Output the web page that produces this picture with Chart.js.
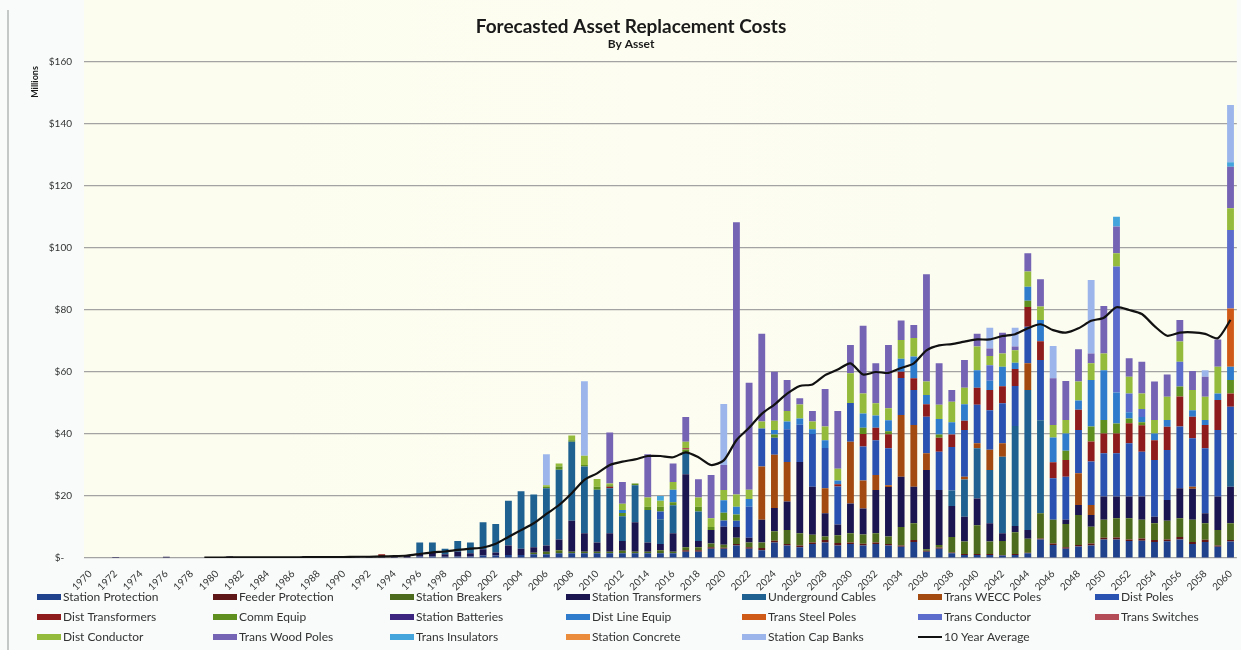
<!DOCTYPE html>
<html>
<head>
<meta charset="utf-8">
<title>Forecasted Asset Replacement Costs</title>
<script src="https://cdn.jsdelivr.net/npm/chart.js@4.4.1/dist/chart.umd.min.js"></script>
<style>
  html, body { margin: 0; padding: 0; background: #f8fbfa; }
  #wrap { width: 1241px; height: 650px; position: relative; }
  canvas { display: block; }
</style>
</head>
<body>
<div id="wrap"><canvas id="chart" width="1241" height="650"></canvas></div>
<script>
// Category axis: one bar per year, 1970 - 2060
const years = [];
for (let y = 1970; y <= 2060; y++) years.push(String(y));

// Replacement cost by asset class, $ millions (rows are decades: 1970s ... 2050s, then 2060)
const stationProtection = [
  0,0,0,0,0,0,0,0,0,0,
  0,0,0,0,0,0,0,0,0,0,
  0,0,0,0,0,0,.5,.5,.4,.5,
  .5,.8,.8,1,1,1.2,1.2,1.5,1.5,1.5,
  1.5,1.5,1.5,1.5,1.5,1.5,1.5,2,2,3,
  3,4,3,2.5,5,4,3.5,4.5,5,4,
  4.5,4,4.5,4,3.6,5.2,2,3,1.5,1,
  1,1,.8,1,1.5,6,4.2,3,3.7,4,
  6,6,5.5,5.6,5.2,5.4,6,4.5,5.2,3.6,
  5.3];
const feederProtection = [
  0,0,0,0,0,0,0,0,0,0,
  0,0,0,0,0,0,0,0,0,0,
  0,0,0,0,0,0,0,0,0,0,
  0,0,0,0,0,0,0,0,0,0,
  0,0,0,0,0,0,0,.5,.5,.5,
  .3,.5,.5,.7,.6,.5,.5,.5,.8,.8,
  .5,.6,.5,.5,.4,.6,.3,.4,.3,.3,
  .3,.3,.2,.3,.2,.3,.5,.5,.5,.7,
  .5,.6,.5,.7,.6,.6,.8,.7,.7,.4,
  .5];
const stationBreakers = [
  0,0,0,0,0,0,0,0,0,0,
  0,0,0,0,0,0,0,0,0,0,
  0,0,0,0,0,0,0,0,0,0,
  0,0,0,0,0,.5,.8,1,.5,.5,
  .5,.5,.8,.5,.5,1,.5,1,1,1.2,
  1,2,1.5,1.8,3,4.5,4,2.5,1.1,2.5,
  3,3,3,2.4,6,5.4,.5,.8,5,4,
  9.3,4,4.5,7,4.5,8.1,7.6,7.5,9.7,5.4,
  5.8,6.2,6.8,6,5.4,6,6,7.1,5.3,5,
  5.4];
const stationTransformers = [
  0,0,.3,0,0,0,.4,0,0,.2,
  .3,.5,.2,.2,.2,.2,.3,.6,.6,.3,
  .3,.6,.4,.4,.5,.8,1,1.2,.8,1.5,
  1,2,1,3,2,1.8,2,3.5,10,6,
  3,6,3.2,9.5,3,2,6,23.5,2,4.3,
  5.8,3.5,1.5,7.3,7.5,9.2,23,15.5,7.5,3.5,
  9.6,8.4,13.9,16,16.2,11.8,25.6,17.7,10,8,
  8.6,5.9,2.5,2,2.8,0,0,1.3,3.2,3.8,
  7.5,7,7,7.5,2.1,6.7,9.7,10,3.2,10.8,
  11.8];
const undergroundCables = [
  0,0,0,0,0,0,0,0,0,0,
  0,0,0,0,0,0,0,0,0,0,
  0,0,0,0,0,0,3.5,3.3,1.8,3.5,
  3.5,8.7,9.2,14.5,18.5,17,18.5,22.5,25.5,21.5,
  17,14.5,8,12,10.5,8,9,7,9.5,0,
  0,0,0,0,0,0,0,0,0,0,
  0,0,0,0,0,0,0,0,5,12,
  16.2,17.2,24.7,32.3,45.2,30,0,0,0,0,
  0,0,0,0,0,0,0,0,0,0,
  8.6];
const transWeccPoles = [
  0,0,0,0,0,0,0,0,0,0,
  0,0,0,0,0,0,0,0,0,0,
  0,0,0,0,0,0,0,0,0,0,
  0,0,0,0,0,0,0,0,0,0,
  0,0,0,0,0,0,0,0,0,0,
  0,0,0,17.2,17.2,12.8,0,0,8.1,0,
  19.9,9,4.9,.6,19.9,19.9,5.4,0,0,.9,
  1.6,6.5,4.3,0,8.6,0,0,0,10.2,3.2,
  0,0,0,0,0,0,0,.7,0,0,
  0];
const distPoles = [
  0,0,0,0,0,0,0,0,0,0,
  0,0,0,0,0,0,0,0,0,0,
  0,0,0,0,0,0,0,0,0,0,
  0,0,0,0,0,0,0,0,0,0,
  0,0,0,0,0,2.5,0,0,0,0,
  2,2,10,12.3,5.5,10.5,12,17,13,12.3,
  12.5,11,11.2,11.9,12,11.3,11.8,12.4,14,15.1,
  12.4,12.8,12.9,12.9,11.8,19.5,13.4,13.9,14,14,
  14,14,17.2,14.5,18.3,16.1,19.9,15.6,21,21.5,
  17.2];
const distTransformers = [
  0,0,0,0,0,0,0,0,0,0,
  0,0,0,0,0,0,0,0,0,0,
  0,0,0,.8,0,0,0,0,0,0,
  0,0,0,0,0,0,0,0,0,0,
  0,.5,0,0,0,0,0,0,0,0,
  0,0,0,0,0,0,0,0,0,.7,
  0,4,4,4.5,2,3.8,4,4.5,4,3,
  5.5,6.5,5.5,5.5,6.4,6,5.2,5.4,6.5,6.5,
  6.4,6.4,6.5,8.5,6.4,7.5,9.7,7,7.5,9.7,
  4.3];
const commEquip = [
  0,0,0,0,0,0,0,0,0,0,
  0,0,0,0,0,0,0,0,0,0,
  0,0,0,0,0,0,0,0,0,0,
  0,0,0,0,0,0,.5,1,.5,.5,
  1,.5,1,.5,1,1.5,1,1,1.5,1,
  2.5,2,0,0,1,0,0,0,0,0,
  0,2,0,1,0,0,0,1,0,0,
  0,0,0,0,2,0,0,3,0,4.8,
  4.3,3.2,1.5,1,0,0,3.2,0,0,0,
  4.3];
const stationBatteries = [
  0,0,0,0,0,0,0,0,0,0,
  0,0,0,0,0,0,0,0,0,0,
  0,0,0,0,0,0,0,0,0,0,
  0,0,0,0,0,0,0,0,0,0,
  0,0,0,0,0,0,0,0,0,0,
  0,0,0,0,0,0,0,0,0,0,
  0,0,0,0,0,0,0,0,0,0,
  0,0,0,0,0,0,0,0,0,0,
  0,0,0,0,0,0,0,0,0,0,
  0];
const distLineEquip = [
  0,0,0,0,0,0,0,0,0,0,
  0,0,0,0,0,0,0,0,0,0,
  0,0,0,0,0,0,0,0,0,0,
  0,0,0,0,0,0,0,0,0,0,
  0,0,1,0,0,0,4,0,0,0,
  4,2.5,2.5,0,1.5,2.5,2,1.5,2.5,1.2,
  0,4.6,4,3.5,4.2,7,3,5,4,5.3,
  5.7,3,6.3,2,4.5,6.9,8,5.6,3,15,
  16.1,10,2,1.7,2.2,2.2,0,2.1,1.6,2.1,
  4.3];
const transSteelPoles = [
  0,0,0,0,0,0,0,0,0,0,
  0,0,0,0,0,0,0,0,0,0,
  0,0,0,0,0,0,0,0,0,0,
  0,0,0,0,0,0,0,0,0,0,
  0,0,0,0,0,0,0,0,0,0,
  0,0,0,0,0,0,0,0,0,0,
  0,0,0,0,0,0,0,0,0,0,
  0,0,0,0,0,0,0,0,0,0,
  0,0,0,0,0,0,0,0,0,0,
  18.8];
const transConductor = [
  0,0,0,0,0,0,0,0,0,0,
  0,0,0,0,0,0,0,0,0,0,
  0,0,0,0,0,0,0,0,0,0,
  0,0,0,0,0,0,0,0,0,0,
  0,0,0,0,0,0,0,0,0,0,
  0,0,0,0,0,0,0,0,0,0,
  0,0,0,0,0,0,0,0,0,0,
  0,5,0,0,0,0,0,0,0,0,
  0,40.6,6.1,2.6,0,0,8,0,0,0,
  25.3];
const transSwitches = [
  0,0,0,0,0,0,0,0,0,0,
  0,0,0,0,0,0,0,0,0,0,
  0,0,0,0,0,0,0,0,0,0,
  0,0,0,0,0,0,0,0,0,0,
  0,0,0,0,0,0,0,.5,0,0,
  0,0,0,0,0,0,0,0,0,0,
  0,0,0,0,0,0,0,0,0,0,
  0,0,0,0,0,0,0,0,0,0,
  0,0,0,0,0,0,0,0,0,0,
  0];
const distConductor = [
  0,0,0,0,0,0,0,0,0,0,
  0,0,0,0,0,0,0,0,0,0,
  0,0,0,0,0,0,0,0,0,0,
  0,0,0,0,0,0,.5,1,1.5,3,
  2.5,.5,2,0,3,2,2.5,2,3,2.8,
  3.3,4,3,2.2,3,3.4,4.5,2.5,4.4,3.8,
  9.6,6.5,3.9,3.9,6,6,4.3,4.6,6.6,5.3,
  7.6,3,4.3,4,4.9,4.3,4,4.3,6.1,5.4,
  5.4,4.3,5.4,5,4.3,7.5,6.5,6.5,7.5,8.6,
  7];
const transWoodPoles = [
  0,0,0,0,0,0,0,0,0,0,
  0,0,0,0,0,0,0,0,0,0,
  0,0,0,0,0,0,0,0,0,0,
  0,0,0,0,0,0,0,0,0,0,
  0,16.5,7,0,14,0,6,8,5.9,14,
  8.1,87.8,34.5,28.3,15.8,10,2,3.4,12.1,18.6,
  9.1,21.8,12.9,20.4,6.3,4.2,34.6,13.4,3.8,9,
  4.1,2.4,6.7,1.2,5.9,8.8,15.1,12.6,10.4,3.2,
  15.3,8.6,5.9,10.2,12.4,7.2,7,6.1,6.5,8.8,
  13.4];
const transInsulators = [
  0,0,0,0,0,0,0,0,0,0,
  0,0,0,0,0,0,0,0,0,0,
  0,0,0,0,0,0,0,0,0,0,
  0,0,0,0,0,0,0,0,0,0,
  0,0,0,0,0,1.5,0,0,0,0,
  0,0,0,0,0,0,0,0,0,0,
  0,0,0,0,0,0,0,0,0,0,
  0,0,0,0,0,0,0,0,0,0,
  0,3.2,0,0,0,0,0,0,0,0,
  1.5];
const stationConcrete = [
  0,0,0,0,0,0,0,0,0,0,
  0,0,0,0,0,0,0,0,0,0,
  0,0,0,0,0,0,0,0,0,0,
  0,0,0,0,0,0,0,0,0,0,
  0,0,0,0,0,0,0,0,0,0,
  0,0,0,0,0,0,0,0,0,0,
  0,0,0,0,0,0,0,0,0,0,
  0,0,0,0,0,0,0,0,0,0,
  0,0,0,0,0,0,0,0,0,0,
  0];
const stationCapBanks = [
  0,0,0,0,0,0,0,0,0,0,
  0,0,0,0,0,0,0,0,0,0,
  0,0,0,0,0,0,0,0,0,0,
  0,0,0,0,0,0,10,0,0,24,
  0,0,0,0,0,0,0,0,0,0,
  19.7,0,0,0,0,0,0,0,0,0,
  0,0,0,0,0,0,0,0,0,0,
  0,6.7,0,6.1,0,0,10.4,0,0,23.7,
  0,0,0,0,0,0,0,0,2.1,0,
  18.4];

// 10 year average of total cost, $ millions
const tenYearAverage = [
  null,null,null,null,null,null,null,null,null,.1,
  .1,.2,.2,.2,.2,.2,.2,.3,.3,.3,
  .3,.4,.4,.5,.6,.8,1.3,1.8,2.1,2.6,
  3,3.4,4.6,6.8,9,11.2,14.2,17.1,20.9,25.2,
  27.3,30,31.1,31.8,32.9,32.9,32.5,34.1,32.5,30,
  31.5,38,42,46.5,49.5,53,55.5,56,59,60.8,
  62.8,59.2,60,59.7,61.3,62.8,67,68.6,69,69.8,
  70.5,70.5,71.6,72.2,74.1,75.4,73.5,72.7,74.1,76.5,
  77.5,80.9,80,78.7,74.8,71.7,72.7,72.8,72.3,70.9,
  76.8];

// Stacked series, bottom to top
const series = [
  ['Station Protection',   stationProtection,   '#20418c'],
  ['Feeder Protection',    feederProtection,    '#5e1616'],
  ['Station Breakers',     stationBreakers,     '#4d6b1c'],
  ['Station Transformers', stationTransformers, '#1c1650'],
  ['Underground Cables',   undergroundCables,   '#1f6190'],
  ['Trans WECC Poles',     transWeccPoles,      '#a24a10'],
  ['Dist Poles',           distPoles,           '#2a52b0'],
  ['Dist Transformers',    distTransformers,    '#8e1c1c'],
  ['Comm Equip',           commEquip,           '#5f8f1f'],
  ['Station Batteries',    stationBatteries,    '#3c2580'],
  ['Dist Line Equip',      distLineEquip,       '#2f7ccc'],
  ['Trans Steel Poles',    transSteelPoles,     '#cf5a18'],
  ['Trans Conductor',      transConductor,      '#5b6ccc'],
  ['Trans Switches',       transSwitches,       '#b44c58'],
  ['Dist Conductor',       distConductor,       '#95bb3c'],
  ['Trans Wood Poles',     transWoodPoles,      '#7563b4'],
  ['Trans Insulators',     transInsulators,     '#44a4dc'],
  ['Station Concrete',     stationConcrete,     '#ea8c3c'],
  ['Station Cap Banks',    stationCapBanks,     '#9cb6ec']
];

const FONT = 'Lato, "Open Sans", "DejaVu Sans", sans-serif';

const datasets = series.map(([label, data, color]) => ({
  type: 'bar',
  label, data,
  backgroundColor: color,
  borderWidth: 0,
  barPercentage: 0.54,
  categoryPercentage: 1.0,
  order: 1
}));
datasets.push({
  type: 'line',
  label: '10 Year Average',
  data: tenYearAverage,
  stack: 'avg',
  borderColor: '#111111',
  backgroundColor: '#111111',
  borderWidth: 2.2,
  pointRadius: 0,
  tension: 0.25,
  spanGaps: false,
  order: 0
});

// Page / plot-area backdrop
const backdrop = {
  id: 'backdrop',
  beforeDraw(chart) {
    const { ctx, chartArea: a, width, height } = chart;
    ctx.save();
    ctx.fillStyle = '#f8fbfa';
    ctx.fillRect(0, 0, width, height);
    const g = ctx.createLinearGradient(a.left, 0, a.right, 0);
    g.addColorStop(0, '#fcfdee');
    g.addColorStop(0.5, '#fdfdf1');
    g.addColorStop(1, '#fbfdf0');
    ctx.fillStyle = g;
    ctx.fillRect(a.left, 0, a.right - a.left, a.bottom);
    ctx.strokeStyle = '#c4c9c8';
    ctx.lineWidth = 2;
    ctx.beginPath();
    ctx.moveTo(8, 10);
    ctx.lineTo(8, height);
    ctx.stroke();
    ctx.restore();
  }
};

// Titles, axis caption and the grid legend
const annotations = {
  id: 'annotations',
  afterDraw(chart) {
    const { ctx } = chart;
    ctx.save();
    ctx.fillStyle = '#1a1a1a';
    ctx.textAlign = 'center';
    ctx.textBaseline = 'middle';
    ctx.font = 'bold 19px ' + FONT;
    ctx.fillText('Forecasted Asset Replacement Costs', 631, 27);
    ctx.font = 'bold 12px ' + FONT;
    ctx.fillText('By Asset', 631, 44);

    ctx.save();
    ctx.translate(35, 82);
    ctx.rotate(-Math.PI / 2);
    ctx.font = 'bold 9px ' + FONT;
    ctx.fillText('Millions', 0, 0);
    ctx.restore();

    const cols = [37, 213, 390, 566, 742, 918, 1095];
    const rows = [597, 617, 637];
    ctx.textAlign = 'left';
    ctx.font = '12px ' + FONT;
    chart.data.datasets.forEach((ds, i) => {
      const x = cols[i % 7];
      const y = rows[Math.floor(i / 7)];
      if (ds.type === 'line') {
        ctx.strokeStyle = ds.borderColor;
        ctx.lineWidth = 2;
        ctx.beginPath();
        ctx.moveTo(x, y);
        ctx.lineTo(x + 24, y);
        ctx.stroke();
      } else {
        ctx.fillStyle = ds.backgroundColor;
        ctx.fillRect(x, y - 3, 24, 6);
      }
      ctx.fillStyle = '#333333';
      ctx.fillText(ds.label, x + 26, y + 0.5);
    });
    ctx.restore();
  }
};

new Chart(document.getElementById('chart'), {
  data: { labels: years, datasets },
  options: {
    responsive: false,
    animation: false,
    layout: { padding: { top: 62, right: 1, left: 0, bottom: 0 } },
    plugins: {
      legend: { display: false },
      tooltip: { enabled: false }
    },
    scales: {
      x: {
        stacked: true,
        grid: { display: false },
        border: { display: false },
        ticks: {
          autoSkip: false,
          minRotation: 45,
          maxRotation: 45,
          padding: 2,
          color: '#333333',
          font: { family: FONT, size: 10 },
          callback(value, index) {
            return index % 2 === 0 ? this.getLabelForValue(value) : '';
          }
        },
        afterFit(scale) { scale.height = 92; }
      },
      y: {
        stacked: true,
        min: 0,
        max: 160,
        grid: { color: '#a3a3a3', lineWidth: 1.2, drawTicks: false },
        border: { display: false },
        ticks: {
          stepSize: 20,
          padding: 12,
          color: '#333333',
          font: { family: FONT, size: 10 },
          callback: v => (v === 0 ? '$-   ' : '$' + v)
        },
        afterFit(scale) { scale.width = 84; }
      }
    }
  },
  plugins: [backdrop, annotations]
});
</script>
</body>
</html>
